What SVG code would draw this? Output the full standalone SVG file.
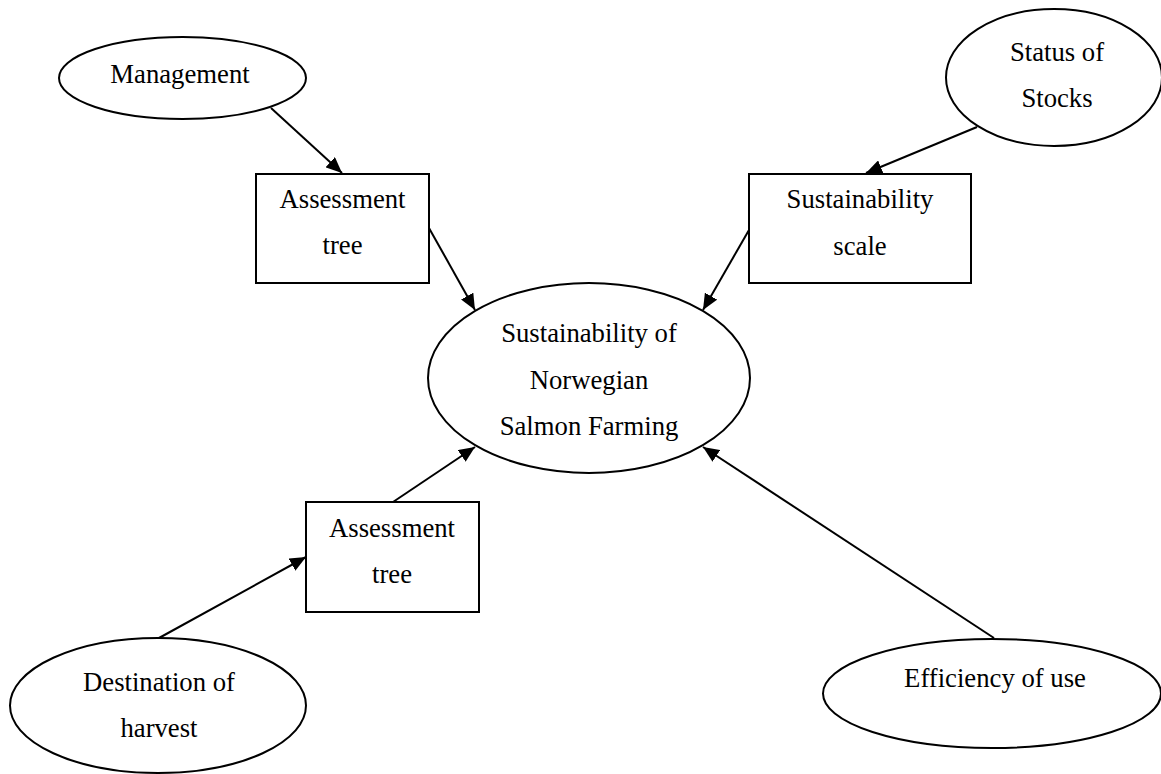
<svg xmlns="http://www.w3.org/2000/svg" width="1161" height="774" viewBox="0 0 1161 774">
<style>
.shape{fill:#fff;stroke:#000;stroke-width:2}
.lbl{font-family:"Liberation Serif","Times New Roman",serif;font-size:26.7px;fill:#000;text-anchor:middle}
.conn{stroke:#000;stroke-width:2;fill:none;marker-end:url(#arr)}
</style>
<defs>
<marker id="arr" markerUnits="userSpaceOnUse" markerWidth="18" markerHeight="14" refX="16" refY="7" orient="auto">
<path d="M0,0 L16,7 L0,14 Z" fill="#000"/>
</marker>
</defs>
<rect width="1161" height="774" fill="#fff"/>
<g id="connectors">
<line class="conn" x1="271" y1="108" x2="342" y2="173"/>
<line class="conn" x1="429" y1="228" x2="475" y2="310"/>
<line class="conn" x1="977" y1="127" x2="866" y2="173"/>
<line class="conn" x1="749" y1="230" x2="703" y2="310"/>
<line class="conn" x1="393" y1="502" x2="475" y2="447"/>
<line class="conn" x1="159" y1="638" x2="306" y2="557"/>
<line class="conn" x1="994" y1="638" x2="703" y2="447"/>
</g>
<g id="management">
<ellipse class="shape" cx="182.5" cy="78" rx="123.5" ry="41"/>
<text class="lbl" x="180" y="83">Management</text>
</g>
<g id="status">
<ellipse class="shape" cx="1054" cy="77.5" rx="108" ry="68.5"/>
<text class="lbl" x="1057" y="61">Status of</text>
<text class="lbl" x="1057" y="107">Stocks</text>
</g>
<g id="tree1">
<rect class="shape" x="256" y="174" width="173" height="109"/>
<text class="lbl" x="342.5" y="208">Assessment</text>
<text class="lbl" x="342.5" y="254">tree</text>
</g>
<g id="scale">
<rect class="shape" x="749" y="174" width="222" height="109"/>
<text class="lbl" x="860" y="208">Sustainability</text>
<text class="lbl" x="860" y="255">scale</text>
</g>
<g id="central">
<ellipse class="shape" cx="589" cy="378" rx="161" ry="95"/>
<text class="lbl" x="589" y="342">Sustainability of</text>
<text class="lbl" x="589" y="389">Norwegian</text>
<text class="lbl" x="589" y="435">Salmon Farming</text>
</g>
<g id="tree2">
<rect class="shape" x="306" y="502" width="173" height="110"/>
<text class="lbl" x="392" y="537">Assessment</text>
<text class="lbl" x="392" y="583">tree</text>
</g>
<g id="destination">
<ellipse class="shape" cx="158" cy="705.5" rx="148" ry="67.5"/>
<text class="lbl" x="159" y="691">Destination of</text>
<text class="lbl" x="159" y="737">harvest</text>
</g>
<g id="efficiency">
<ellipse class="shape" cx="992" cy="693.5" rx="169" ry="54.5"/>
<text class="lbl" x="995" y="687">Efficiency of use</text>
</g>
</svg>
